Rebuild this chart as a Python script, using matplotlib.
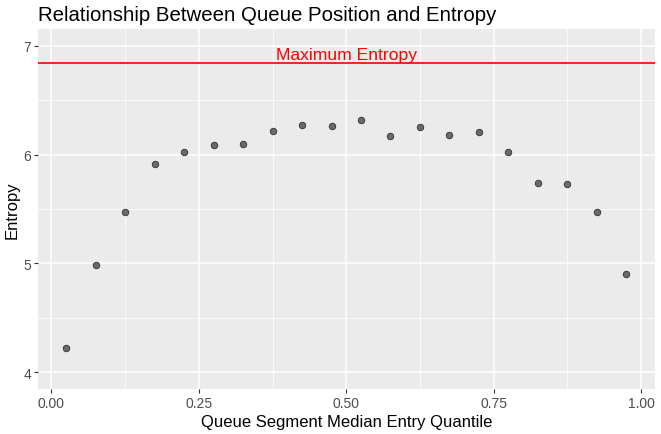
import matplotlib
matplotlib.use("Agg")
import matplotlib.pyplot as plt
import numpy as np

quantile = [0.025, 0.075, 0.125, 0.175, 0.225, 0.275, 0.325, 0.375, 0.425, 0.475,
            0.525, 0.575, 0.625, 0.675, 0.725, 0.775, 0.825, 0.875, 0.925, 0.975]
entropy = [4.225, 4.99, 5.475, 5.91, 6.025, 6.09, 6.10, 6.215, 6.27, 6.265,
           6.32, 6.175, 6.25, 6.18, 6.21, 6.025, 5.74, 5.73, 5.47, 4.90]
max_entropy = 6.84
x_ticks = [0.00, 0.25, 0.50, 0.75, 1.00]
x_ticklabels = ["0.00", "0.25", "0.50", "0.75", "1.00"]
y_ticks = [4, 5, 6, 7]

plt.rcParams['font.family'] = ['Liberation Sans', 'DejaVu Sans']

fig = plt.figure(figsize=(6.61, 4.35), dpi=100)
ax = fig.add_axes([38/661, 1-389.6/435, (654.5-38)/661, (389.6-30.4)/435])
ax.set_facecolor('#EBEBEB')
for s in ax.spines.values():
    s.set_visible(False)

ax.set_xlim(-0.0225, 1.0225)
ax.set_ylim(3.85, 7.15)
ax.set_xticks(x_ticks)
ax.set_xticklabels(x_ticklabels)
ax.set_yticks(y_ticks)
ax.set_xticks([0.125, 0.375, 0.625, 0.875], minor=True)
ax.set_yticks([4.5, 5.5, 6.5], minor=True)
ax.grid(which='major', color='white', linewidth=1.1)
ax.grid(which='minor', color='white', linewidth=0.55)
ax.set_axisbelow(True)
ax.tick_params(which='major', length=3, width=0.8, color='#333333',
               labelcolor='#4D4D4D', labelsize=10, pad=2)
ax.tick_params(which='minor', length=0)

ax.axhline(max_entropy, color='red', linewidth=1.2, zorder=2)
ax.text(0.5, max_entropy + 0.038, "Maximum Entropy", color='red', fontsize=12.6,
        ha='center', va='baseline')

ax.scatter(quantile, entropy, s=22, facecolor='#6a6a6a', edgecolor='#303030',
           linewidth=0.6, zorder=3)

ax.set_xlabel("Queue Segment Median Entry Quantile", fontsize=12, color='black', labelpad=3)
ax.set_ylabel("Entropy", fontsize=12, color='black', labelpad=3)
ax.set_title("Relationship Between Queue Position and Entropy", fontsize=14.7,
             loc='left', x=-0.0, pad=7, color='black')

fig.savefig("out.png", dpi=100)
